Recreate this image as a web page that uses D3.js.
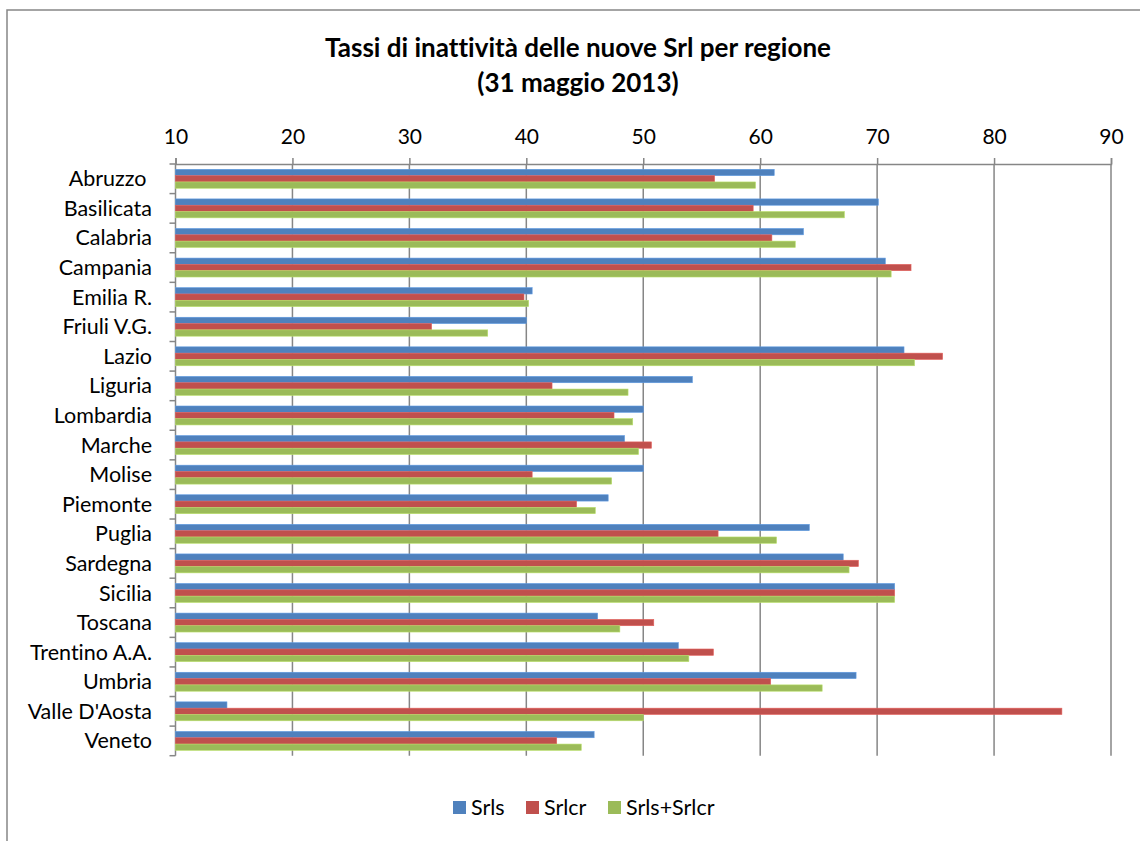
<!DOCTYPE html>
<html>
<head>
<meta charset="utf-8">
<script src="https://cdn.jsdelivr.net/npm/d3@7"></script>
<style>
  body { margin: 0; background: #fff; }
  svg { display: block; font-family: Lato, "Open Sans", sans-serif; font-variant-ligatures: none; }
</style>
</head>
<body>
<svg id="chart" width="1140" height="841"></svg>
<script>
(function () {
  "use strict";

  const regions = ["Abruzzo ", "Basilicata", "Calabria", "Campania", "Emilia R.", "Friuli V.G.", "Lazio",
    "Liguria", "Lombardia", "Marche", "Molise", "Piemonte", "Puglia", "Sardegna", "Sicilia",
    "Toscana", "Trentino A.A.", "Umbria", "Valle D'Aosta", "Veneto"];
  const seriesNames = ["Srls", "Srlcr", "Srls+Srlcr"];
  const seriesColors = ["#4F81BD", "#C0504D", "#9BBB59"];
  const srls = [61.2, 70.1, 63.7, 70.7, 40.5, 40.0, 72.3, 54.2, 50.0, 48.4,
    50.0, 47.0, 64.2, 67.1, 71.5, 46.1, 53.0, 68.2, 14.4, 45.8];
  const srlcr = [56.1, 59.4, 61.0, 72.9, 39.8, 31.9, 75.6, 42.2, 47.5, 50.7,
    40.5, 44.3, 56.4, 68.4, 71.5, 50.9, 56.0, 60.9, 85.8, 42.6];
  const srlsSrlcr = [59.6, 67.2, 63.0, 71.2, 40.2, 36.7, 73.2, 48.7, 49.1, 49.6,
    47.3, 45.9, 61.4, 67.6, 71.5, 48.0, 53.9, 65.3, 50.0, 44.7];
  const xTicks = [10, 20, 30, 40, 50, 60, 70, 80, 90];

  const svg = d3.select("#chart");
  const left = 175.5, right = 1111, top = 164, bottom = 755.7;
  const gridColor = "#868686";

  // outer chart frame (runs past the right and bottom edges)
  svg.append("rect")
    .attr("x", 7).attr("y", 10).attr("width", 1160).attr("height", 860)
    .attr("fill", "none").attr("stroke", gridColor).attr("stroke-width", 1.5);

  const title = svg.append("text")
    .attr("text-anchor", "middle")
    .attr("font-weight", "bold")
    .attr("font-size", 26)
    .attr("fill", "#000");
  title.append("tspan").attr("x", 578).attr("y", 57).text("Tassi di inattività delle nuove Srl per regione");
  title.append("tspan").attr("x", 578).attr("y", 92).text("(31 maggio 2013)");

  const x = d3.scaleLinear().domain([10, 90]).range([left, right]);
  const y = d3.scaleBand().domain(regions).range([top, bottom]).paddingInner(0.36).paddingOuter(0.18);
  const ySub = d3.scaleBand().domain(seriesNames).range([0, y.bandwidth()]);

  // vertical gridlines
  svg.append("g")
    .selectAll("line")
    .data(xTicks.slice(1))
    .join("line")
    .attr("x1", (d) => x(d)).attr("x2", (d) => x(d))
    .attr("y1", top).attr("y2", bottom)
    .attr("stroke", gridColor).attr("stroke-width", 1.5);

  // top axis
  const xAxis = svg.append("g")
    .attr("transform", `translate(0,${top})`)
    .call(d3.axisTop(x).tickValues(xTicks).tickSize(6).tickPadding(14).tickFormat(d3.format("d")));
  xAxis.select(".domain").attr("stroke", gridColor).attr("stroke-width", 1.5);
  xAxis.selectAll(".tick line").attr("stroke", gridColor).attr("stroke-width", 1.5);
  xAxis.selectAll("text").attr("font-size", 21).attr("font-family", "Lato, sans-serif").attr("fill", "#000");

  // left axis with tick marks on band boundaries
  const step = (bottom - top) / regions.length;
  svg.append("line")
    .attr("x1", left).attr("x2", left).attr("y1", top).attr("y2", bottom)
    .attr("stroke", gridColor).attr("stroke-width", 1.5);
  svg.append("g")
    .selectAll("line")
    .data(d3.range(regions.length + 1))
    .join("line")
    .attr("x1", left - 6).attr("x2", left)
    .attr("y1", (i) => top + i * step).attr("y2", (i) => top + i * step)
    .attr("stroke", gridColor).attr("stroke-width", 1.5);

  svg.append("g")
    .selectAll("text")
    .data(regions)
    .join("text")
    .attr("x", 152)
    .attr("y", (d) => y(d) + y.bandwidth() / 2)
    .attr("dy", "0.35em")
    .attr("text-anchor", "end")
    .attr("font-size", 21.5)
    .attr("fill", "#000")
    .style("white-space", "pre")
    .text((d) => d);

  const seriesValues = [srls, srlcr, srlsSrlcr];
  const rows = [];
  regions.forEach((r, i) => {
    seriesNames.forEach((s, k) => rows.push({ region: r, series: s, k, value: seriesValues[k][i] }));
  });

  svg.append("g")
    .selectAll("rect")
    .data(rows)
    .join("rect")
    .attr("x", x(10))
    .attr("y", (d) => y(d.region) + ySub(d.series))
    .attr("width", (d) => x(d.value) - x(10))
    .attr("height", ySub.bandwidth())
    .attr("fill", (d) => seriesColors[d.k])
    .attr("stroke", (d) => d3.color(seriesColors[d.k]).brighter(0.5))
    .attr("stroke-width", 0.6);

  // legend
  const legendItems = [
    { name: "Srls", x: 453 },
    { name: "Srlcr", x: 526 },
    { name: "Srls+Srlcr", x: 608 }
  ];
  const legend = svg.append("g")
    .selectAll("g")
    .data(legendItems)
    .join("g")
    .attr("transform", (d) => `translate(${d.x},801)`);
  legend.append("rect")
    .attr("width", 13).attr("height", 13)
    .attr("fill", (d, i) => seriesColors[i]);
  legend.append("text")
    .attr("x", 18).attr("y", 6.5).attr("dy", "0.35em")
    .attr("font-size", 21.5).attr("fill", "#000")
    .text((d) => d.name);
})();
</script>
</body>
</html>
